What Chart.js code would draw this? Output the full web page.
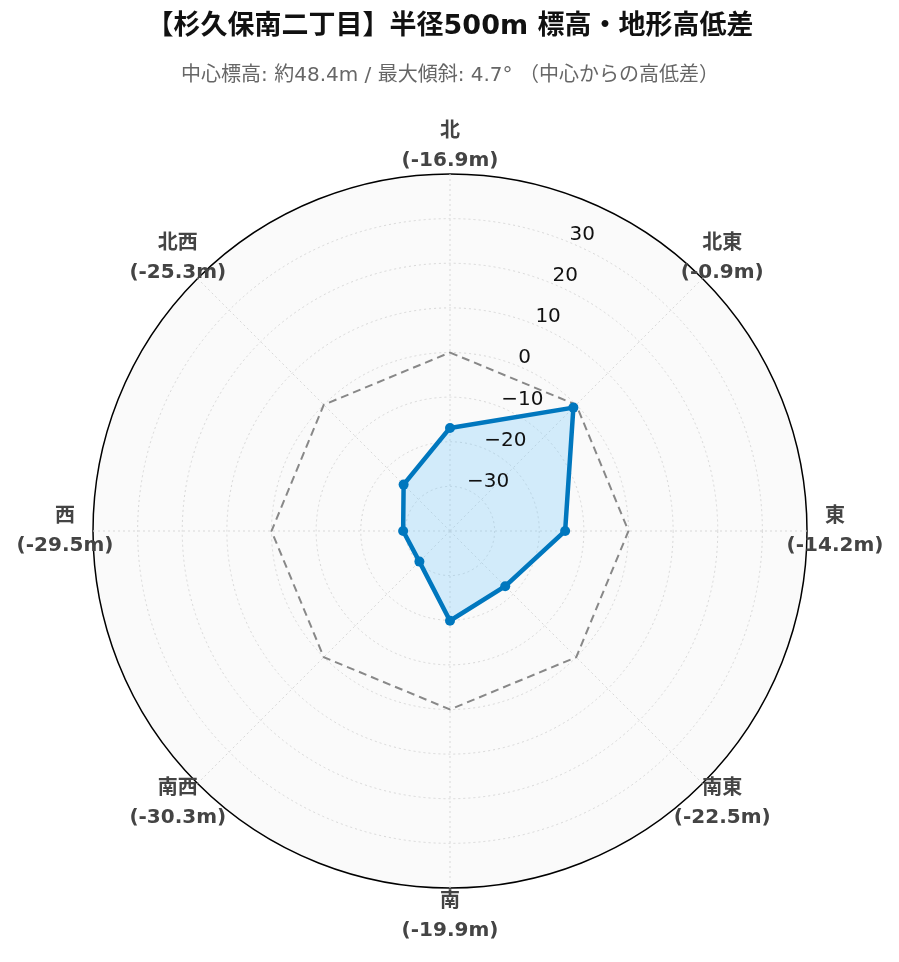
<!DOCTYPE html>
<html lang="ja">
<head>
  <meta charset="UTF-8" />
  <title>杉久保南二丁目 標高・地形高低差</title>
  <script src="https://cdn.jsdelivr.net/npm/chart.js"></script>
  <style>
    html, body {
      margin: 0;
      background: #ffffff;
    }
    #wrap {
      width: 899px;
      height: 962px;
    }
  </style>
</head>
<body>
  <div id="wrap"><canvas id="terrainChart"></canvas></div>

  <script>
    const FONT = "'DejaVu Sans', 'Noto Sans CJK JP', sans-serif";

    // 方位（北から時計回り）
    const directions = ['北', '北東', '東', '南東', '南', '南西', '西', '北西'];
    // 中心からの高低差 (m)
    const elevDiff = [-16.9, -0.9, -14.2, -22.5, -19.9, -30.3, -29.5, -25.3];
    // 中心標高ライン (0m)
    const baseline = [0, 0, 0, 0, 0, 0, 0, 0];
    // 半径軸の目盛り
    const radialMin = -40;
    const radialMax = 40;
    const tickValues = [-30, -20, -10, 0, 10, 20, 30];

    const labels = directions.map((d, i) => [d, '(' + elevDiff[i].toFixed(1) + 'm)']);

    // point labels + tick labels drawn off the scale geometry
    const polarText = {
      id: 'polarText',
      afterDraw(chart) {
        const scale = chart.scales.r;
        const ctx = chart.ctx;
        ctx.save();

        // radial tick labels along the 22.5° line
        ctx.font = '20px ' + FONT;
        ctx.fillStyle = '#111';
        ctx.textAlign = 'left';
        ctx.textBaseline = 'middle';
        tickValues.forEach(v => {
          const p = scale.getPointPosition(0.5, scale.getDistanceFromCenterForValue(v));
          const txt = v < 0 ? '\u2212' + Math.abs(v) : String(v);
          ctx.fillText(txt, p.x, p.y - 8);
        });

        // direction labels
        ctx.font = 'bold 20px ' + FONT;
        ctx.fillStyle = '#444';
        ctx.textAlign = 'center';
        labels.forEach((lines, i) => {
          const p = scale.getPointPosition(i, scale.drawingArea + 28);
          ctx.fillText(lines[0], p.x, p.y - 14.5);
          ctx.fillText(lines[1], p.x, p.y + 14.5);
        });
        ctx.restore();
      }
    };

    const ctx = document.getElementById('terrainChart').getContext('2d');
    new Chart(ctx, {
      type: 'radar',
      data: {
        labels: labels,
        datasets: [
          {
            label: '高低差',
            data: elevDiff,
            order: 0,
            fill: 'start',
            backgroundColor: 'rgba(135, 206, 250, 0.35)',
            borderColor: '#0077be',
            borderWidth: 4.5,
            pointRadius: 5,
            pointBackgroundColor: '#0077be',
            pointBorderWidth: 0
          },
          {
            label: '中心標高',
            data: baseline,
            order: 1,
            fill: false,
            borderColor: '#888888',
            borderWidth: 2,
            borderDash: [8, 5],
            pointRadius: 0
          }
        ]
      },
      options: {
        responsive: true,
        maintainAspectRatio: false,
        animation: false,
        layout: {
          padding: { top: 0, bottom: 72, left: 93, right: 92 }
        },
        plugins: {
          legend: { display: false },
          tooltip: { enabled: false },
          title: {
            display: true,
            text: '【杉久保南二丁目】半径500m 標高・地形高低差',
            color: '#111',
            font: { family: FONT, size: 27, weight: 'bold' },
            padding: { top: 11, bottom: 20 }
          },
          subtitle: {
            display: true,
            text: '中心標高: 約48.4m / 最大傾斜: 4.7° （中心からの高低差）',
            color: '#666',
            font: { family: FONT, size: 20 },
            padding: { top: 0, bottom: 86 }
          }
        },
        scales: {
          r: {
            min: radialMin,
            max: radialMax,
            backgroundColor: '#fafafa',
            ticks: { display: false, stepSize: 10 },
            pointLabels: { display: false },
            grid: {
              circular: true,
              color: c => c.tick && c.tick.value === radialMax ? '#000' : '#d8d8d8',
              lineWidth: c => c.tick && c.tick.value === radialMax ? 1.5 : 1
            },
            border: {
              dash: c => c.tick && c.tick.value === radialMax ? [] : [2, 3]
            },
            angleLines: {
              color: '#d8d8d8',
              lineWidth: 1,
              borderDash: [2, 3]
            }
          }
        }
      },
      plugins: [polarText]
    });
  </script>
</body>
</html>
